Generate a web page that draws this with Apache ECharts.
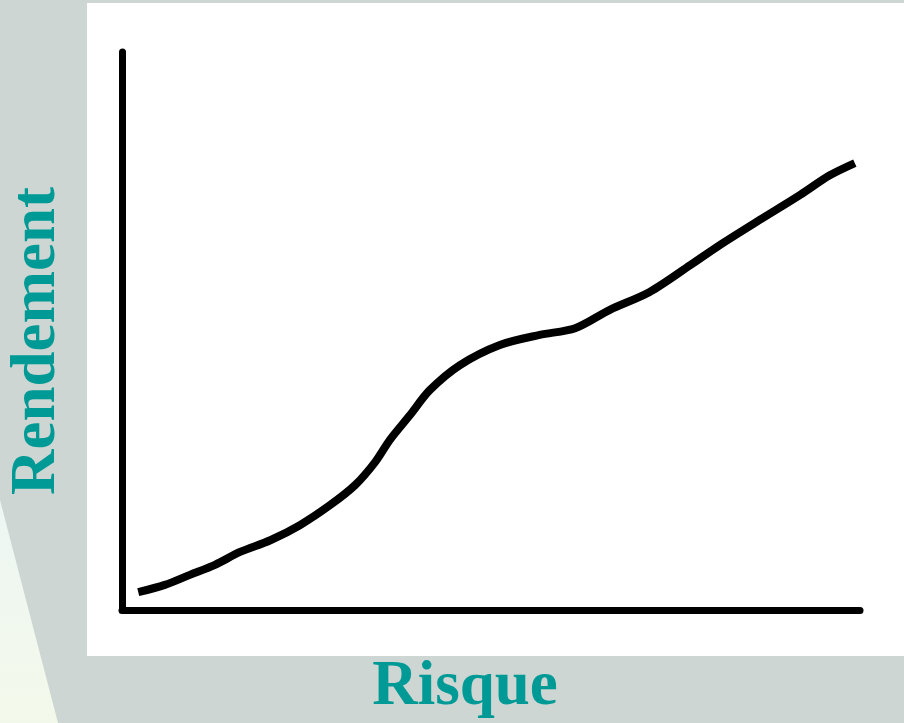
<!DOCTYPE html>
<html>
<head>
<meta charset="utf-8">
<script src="https://cdn.jsdelivr.net/npm/echarts@6/dist/echarts.min.js"></script>
<style>
  html, body { margin: 0; padding: 0; background: #cdd6d3; }
  #main { width: 904px; height: 723px; }
</style>
</head>
<body>
<div id="main"></div>
<script>
// risk / return curve (0-100 on both axes)
var risque = [2.2, 5.8, 9.2, 12.6, 16.0, 20.1, 24.1, 28.2, 31.6, 34.3, 36.3, 39.0, 41.7, 45.8, 51.2, 56.6, 61.4, 66.1, 71.5, 77.0, 81.0, 86.4, 91.9, 95.9, 99.3];
var rendement = [3.2, 4.5, 6.3, 8.1, 10.4, 12.5, 15.2, 18.8, 22.4, 26.5, 30.5, 34.9, 39.4, 43.9, 47.5, 49.3, 50.5, 53.8, 57.0, 61.8, 65.4, 69.9, 74.4, 77.9, 80.1];
var xTitle = 'Risque';
var yTitle = 'Rendement';

var points = [];
for (var i = 0; i < risque.length; i++) {
    points.push([risque[i], rendement[i]]);
}

var teal = '#009a96';
var myChart = echarts.init(document.getElementById('main'));
var option = {
    backgroundColor: '#cdd6d3',
    animation: false,
    grid: {
        left: 122,
        right: 44,
        top: 52,
        bottom: 113
    },
    graphic: [
        {
            type: 'polygon',
            z: -10,
            shape: { points: [[0, 500], [58, 723], [0, 723]] },
            style: {
                fill: new echarts.graphic.LinearGradient(0, 0, 0, 1, [
                    { offset: 0, color: '#eef6f4' },
                    { offset: 1, color: '#f3f9ea' }
                ])
            }
        },
        {
            type: 'rect',
            z: -10,
            shape: { x: 87, y: 3, width: 817, height: 653 },
            style: { fill: '#ffffff' }
        },
        {
            type: 'text',
            x: 465,
            y: 688,
            style: {
                text: xTitle,
                fill: teal,
                font: 'bold 63px "Liberation Serif", serif',
                textAlign: 'center',
                textVerticalAlign: 'middle'
            }
        },
        {
            type: 'text',
            x: 38,
            y: 341,
            rotation: Math.PI / 2,
            style: {
                text: yTitle,
                fill: teal,
                font: 'bold 63px "Liberation Serif", serif',
                textAlign: 'center',
                textVerticalAlign: 'middle'
            }
        }
    ],
    xAxis: {
        type: 'value',
        min: 0,
        max: 100,
        axisLine: { show: true, lineStyle: { color: '#000', width: 7 } },
        axisTick: { show: false },
        axisLabel: { show: false },
        splitLine: { show: false }
    },
    yAxis: {
        type: 'value',
        min: 0,
        max: 100,
        axisLine: { show: true, lineStyle: { color: '#000', width: 7 } },
        axisTick: { show: false },
        axisLabel: { show: false },
        splitLine: { show: false }
    },
    series: [
        {
            type: 'line',
            data: points,
            symbol: 'none',
            smooth: 0.3,
            lineStyle: { color: '#000', width: 8 }
        }
    ]
};
myChart.setOption(option);
</script>
</body>
</html>
